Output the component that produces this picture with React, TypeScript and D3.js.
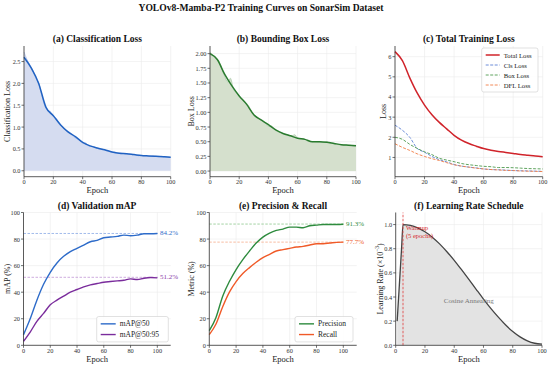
import React from 'react';
import * as d3 from 'd3';

const FONT = "'Liberation Serif', 'Times New Roman', serif";

// ---- data ----
const epochs = [0, 5, 10, 15, 20, 25, 30, 35, 40, 45, 50, 55, 60, 65, 70, 75, 80, 85, 90, 95, 100];
const rawEpochs = d3.range(0, 101, 2);

const clsSmooth = [2.6, 2.35, 2.0, 1.45, 1.26, 1.05, 0.89, 0.78, 0.65, 0.57, 0.52, 0.48, 0.43, 0.4, 0.39, 0.37, 0.35, 0.34, 0.33, 0.32, 0.31];
const clsRaw = [2.72, 2.55, 2.42, 2.3, 2.12, 2.02, 1.74, 1.5, 1.38, 1.36, 1.24, 1.2, 1.06, 1.02, 0.93, 0.9, 0.86, 0.77, 0.74, 0.7,
  0.63, 0.64, 0.57, 0.56, 0.55, 0.51, 0.5, 0.49, 0.46, 0.45, 0.42, 0.43, 0.4, 0.41, 0.39, 0.38, 0.38, 0.36, 0.37, 0.34,
  0.35, 0.34, 0.34, 0.33, 0.34, 0.33, 0.32, 0.33, 0.31, 0.31, 0.3];

const boxSmooth = [2.0, 1.9, 1.65, 1.45, 1.28, 1.14, 0.96, 0.87, 0.79, 0.7, 0.64, 0.6, 0.56, 0.54, 0.5, 0.5, 0.49, 0.47, 0.45, 0.44, 0.43];
const boxRaw = [2.02, 1.98, 1.92, 1.88, 1.75, 1.62, 1.52, 1.58, 1.4, 1.33, 1.28, 1.22, 1.16, 1.13, 1.04, 0.96, 0.92, 0.88, 0.85, 0.82,
  0.76, 0.77, 0.71, 0.68, 0.66, 0.64, 0.63, 0.61, 0.6, 0.62, 0.56, 0.55, 0.55, 0.53, 0.52, 0.5, 0.5, 0.49, 0.5, 0.49,
  0.5, 0.47, 0.47, 0.46, 0.45, 0.45, 0.45, 0.44, 0.44, 0.43, 0.43];

const dflSmooth = [1.68, 1.5, 1.35, 1.18, 1.05, 0.94, 0.85, 0.74, 0.64, 0.57, 0.52, 0.47, 0.43, 0.4, 0.38, 0.36, 0.35, 0.33, 0.32, 0.31, 0.3];
const totalLoss = [6.25, 5.8, 4.95, 4.2, 3.6, 3.12, 2.74, 2.42, 2.1, 1.86, 1.69, 1.56, 1.44, 1.36, 1.3, 1.25, 1.2, 1.15, 1.11, 1.07, 1.04];

const map50 = [8, 20, 34, 46, 55, 62, 67, 70.5, 73, 75.5, 78, 79, 81, 81.5, 82, 83, 82.5, 83, 84, 84, 84.2];
const map5095 = [3, 10, 18, 24, 30.5, 34, 37, 40, 42, 44, 45.5, 46.5, 47.5, 48, 48.5, 49, 50, 49.5, 50.5, 51, 50.8];
const finalMap = [84.2, 51.2];

const precision = [11, 21, 37, 48, 57, 64.5, 71, 77, 81.5, 84.5, 86.5, 87.5, 89, 89, 88.5, 90, 90.5, 91, 91, 91, 91.2];
const recall = [8, 16, 29, 40, 48, 54, 58.5, 62.5, 66, 68.5, 71, 72, 73, 74, 74.5, 75.5, 76.5, 76.5, 77, 77.5, 77.7];
const finalPR = [91.3, 77.7];

const lrEpochs = [1, 2, 3, 4, 5, 10, 15, 20, 25, 30, 35, 40, 45, 50, 55, 60, 65, 70, 75, 80, 85, 90, 95, 100];
const lrValues = [0.2, 0.4, 0.6, 0.8, 1.0, 0.993, 0.973, 0.94, 0.896, 0.84, 0.775, 0.704, 0.626, 0.546, 0.464, 0.383,
  0.306, 0.235, 0.17, 0.114, 0.07, 0.037, 0.017, 0.01];

const xTicks = [0, 20, 40, 60, 80, 100];

type Scale = d3.ScaleLinear<number, number>;

const linePath = (xs: number[], ys: number[], sx: Scale, sy: Scale) =>
  d3.line<number>().x((_, i) => sx(xs[i])).y(d => sy(d)).curve(d3.curveMonotoneX)(ys) || '';

const areaPath = (xs: number[], ys: number[], sx: Scale, sy: Scale, base = 0) =>
  d3.area<number>().x((_, i) => sx(xs[i])).y0(sy(base)).y1(d => sy(d)).curve(d3.curveMonotoneX)(ys) || '';

function Panel(props: {
  left: number; right: number; top: number; bottom: number;
  xMax: number; yDomain: [number, number]; yTicks: number[]; yFmt: (v: number) => string;
  title: string; ylabel: React.ReactNode; ylabelX: number;
  children: (sx: Scale, sy: Scale) => React.ReactNode;
}) {
  const { left, right, top, bottom } = props;
  const sx = d3.scaleLinear().domain([0, props.xMax]).range([left, right]);
  const sy = d3.scaleLinear().domain(props.yDomain).range([bottom, top]);
  const midY = (top + bottom) / 2;
  return (
    <g>
      {xTicks.map(t => (
        <line key={'gx' + t} x1={sx(t)} x2={sx(t)} y1={top} y2={bottom} stroke="#ebebeb" strokeWidth={0.6} />
      ))}
      {props.yTicks.map(t => (
        <line key={'gy' + t} x1={left} x2={right} y1={sy(t)} y2={sy(t)} stroke="#ebebeb" strokeWidth={0.6} />
      ))}
      {props.children(sx, sy)}
      <line x1={left} x2={left} y1={top} y2={bottom} stroke="#333" strokeWidth={0.8} />
      <line x1={left} x2={right} y1={bottom} y2={bottom} stroke="#333" strokeWidth={0.8} />
      {xTicks.map(t => (
        <g key={'tx' + t}>
          <line x1={sx(t)} x2={sx(t)} y1={bottom} y2={bottom + 2.5} stroke="#333" strokeWidth={0.7} />
          <text x={sx(t)} y={bottom + 7.7} fontSize={6.3} textAnchor="middle" fill="#333">{t}</text>
        </g>
      ))}
      {props.yTicks.map(t => (
        <g key={'ty' + t}>
          <line x1={left - 2.5} x2={left} y1={sy(t)} y2={sy(t)} stroke="#333" strokeWidth={0.7} />
          <text x={left - 3.5} y={sy(t)} fontSize={6.3} textAnchor="end" dominantBaseline="central" fill="#333">{props.yFmt(t)}</text>
        </g>
      ))}
      <text x={(left + right) / 2} y={bottom + 16.3} fontSize={8.5} textAnchor="middle" fill="#222">Epoch</text>
      <text transform={`translate(${props.ylabelX},${midY}) rotate(-90)`} fontSize={8} textAnchor="middle"
        dominantBaseline="central" fill="#222">{props.ylabel}</text>
      <text x={(left + right) / 2} y={top - 4} fontSize={9.5} fontWeight="bold" textAnchor="middle" fill="#111">{props.title}</text>
    </g>
  );
}

type LegendItem = { label: string; color: string; dash?: string; width: number };

function Legend({ x, y, w, rowH, fontSize, handleW, items }: {
  x: number; y: number; w: number; rowH: number; fontSize: number; handleW: number; items: LegendItem[];
}) {
  const h = items.length * rowH + 4;
  return (
    <g>
      <rect x={x} y={y} width={w} height={h} rx={2} fill="#fff" fillOpacity={0.85} stroke="#cccccc" strokeWidth={0.6} />
      {items.map((it, i) => {
        const cy = y + 2 + rowH * (i + 0.5);
        return (
          <g key={it.label}>
            <line x1={x + 4} x2={x + 4 + handleW} y1={cy} y2={cy} stroke={it.color} strokeWidth={it.width}
              strokeDasharray={it.dash} />
            <text x={x + 8 + handleW} y={cy} fontSize={fontSize} dominantBaseline="central" fill="#222">{it.label}</text>
          </g>
        );
      })}
    </g>
  );
}

const f1 = d3.format('.1f');
const f2 = d3.format('.2f');
const f0 = d3.format('d');

export default function App() {
  const row1 = { top: 46, bottom: 176.7 };
  const row2 = { top: 212.5, bottom: 345.3 };
  return (
    <svg width={550} height={365} fontFamily={FONT} style={{ position: 'absolute', left: 0, top: 0 }}>
      <rect width={550} height={365} fill="#fff" />
      <text x={261} y={11} fontSize={9.6} fontWeight="bold" textAnchor="middle" fill="#111">
        YOLOv8-Mamba-P2 Training Curves on SonarSim Dataset
      </text>

      {/* (a) */}
      <Panel left={24} right={170.7} {...row1} xMax={100} yDomain={[-0.136, 2.856]} yTicks={[0, 0.5, 1, 1.5, 2, 2.5]}
        yFmt={f1} title="(a) Classification Loss" ylabel="Classification Loss" ylabelX={7.5}>
        {(sx, sy) => (
          <g>
            <path d={areaPath(rawEpochs, clsRaw, sx, sy)} fill="#d5dcf0" />
            <path d={linePath(rawEpochs, clsRaw, sx, sy)} fill="none" stroke="#9fb4e6" strokeWidth={0.6} />
            <path d={linePath(epochs, clsSmooth, sx, sy)} fill="none" stroke="#2062c2" strokeWidth={1.5} />
          </g>
        )}
      </Panel>

      {/* (b) */}
      <Panel left={210} right={356} {...row1} xMax={100} yDomain={[-0.096, 2.13]} yTicks={d3.range(0, 2.01, 0.25)}
        yFmt={f2} title="(b) Bounding Box Loss" ylabel="Box Loss" ylabelX={191}>
        {(sx, sy) => (
          <g>
            <path d={areaPath(rawEpochs, boxRaw, sx, sy)} fill="#d5e0cd" />
            <path d={linePath(rawEpochs, boxRaw, sx, sy)} fill="none" stroke="#9cc39c" strokeWidth={0.6} />
            <path d={linePath(epochs, boxSmooth, sx, sy)} fill="none" stroke="#2a7b2f" strokeWidth={1.5} />
          </g>
        )}
      </Panel>

      {/* (c) */}
      <Panel left={395} right={542.7} {...row1} xMax={100} yDomain={[0.045, 6.53]} yTicks={[1, 2, 3, 4, 5, 6]}
        yFmt={f0} title="(c) Total Training Loss" ylabel="Loss" ylabelX={383.3}>
        {(sx, sy) => (
          <g>
            <path d={linePath(epochs, clsSmooth, sx, sy)} fill="none" stroke="#5b80d4" strokeWidth={0.9} strokeDasharray="3,1.5" />
            <path d={linePath(epochs, boxSmooth, sx, sy)} fill="none" stroke="#4e9a4e" strokeWidth={0.9} strokeDasharray="3,1.5" />
            <path d={linePath(epochs, dflSmooth, sx, sy)} fill="none" stroke="#f07d45" strokeWidth={0.9} strokeDasharray="3,1.5" />
            <path d={linePath(epochs, totalLoss, sx, sy)} fill="none" stroke="#d0232a" strokeWidth={1.5} />
          </g>
        )}
      </Panel>
      <Legend x={481.7} y={48} w={56.3} rowH={10} fontSize={6.7} handleW={14} items={[
        { label: 'Total Loss', color: '#d0232a', width: 1.5 },
        { label: 'Cls Loss', color: '#5b80d4', width: 0.9, dash: '3,1.5' },
        { label: 'Box Loss', color: '#4e9a4e', width: 0.9, dash: '3,1.5' },
        { label: 'DFL Loss', color: '#f07d45', width: 0.9, dash: '3,1.5' },
      ]} />

      {/* (d) */}
      <Panel left={23.5} right={170.7} {...row2} xMax={110} yDomain={[0, 100]} yTicks={[0, 20, 40, 60, 80, 100]}
        yFmt={f0} title="(d) Validation mAP" ylabel="mAP (%)" ylabelX={7.5}>
        {(sx, sy) => (
          <g>
            {finalMap.map((v, i) => (
              <g key={v}>
                <line x1={sx(0)} x2={sx(101)} y1={sy(v)} y2={sy(v)} stroke={i === 0 ? '#7b9fe3' : '#b98ad0'}
                  strokeWidth={0.7} strokeDasharray="2.5,1.5" />
                <text x={sx(102)} y={sy(v)} fontSize={7} dominantBaseline="central" fill={i === 0 ? '#2f6bc9' : '#8a3aa8'}>
                  {v.toFixed(1)}%</text>
              </g>
            ))}
            <path d={linePath(epochs, map50, sx, sy)} fill="none" stroke="#2d6bc9" strokeWidth={1.4} />
            <path d={linePath(epochs, map5095, sx, sy)} fill="none" stroke="#7a2c9c" strokeWidth={1.4} />
          </g>
        )}
      </Panel>
      <Legend x={96.7} y={316.5} w={71.6} rowH={10.7} fontSize={7.5} handleW={15} items={[
        { label: 'mAP@50', color: '#2d6bc9', width: 1.4 },
        { label: 'mAP@50:95', color: '#7a2c9c', width: 1.4 },
      ]} />

      {/* (e) */}
      <Panel left={209.3} right={356.7} {...row2} xMax={110} yDomain={[0, 100]} yTicks={[0, 20, 40, 60, 80, 100]}
        yFmt={f0} title="(e) Precision & Recall" ylabel="Metric (%)" ylabelX={191}>
        {(sx, sy) => (
          <g>
            {finalPR.map((v, i) => (
              <g key={v}>
                <line x1={sx(0)} x2={sx(101)} y1={sy(v)} y2={sy(v)} stroke={i === 0 ? '#7cbf7c' : '#f5a07a'}
                  strokeWidth={0.7} strokeDasharray="2.5,1.5" />
                <text x={sx(102)} y={sy(v)} fontSize={7} dominantBaseline="central" fill={i === 0 ? '#2e8b3e' : '#ee5a2a'}>
                  {v.toFixed(1)}%</text>
              </g>
            ))}
            <path d={linePath(epochs, precision, sx, sy)} fill="none" stroke="#2e8b3e" strokeWidth={1.4} />
            <path d={linePath(epochs, recall, sx, sy)} fill="none" stroke="#f05a28" strokeWidth={1.4} />
          </g>
        )}
      </Panel>
      <Legend x={295} y={316.5} w={58} rowH={10.7} fontSize={7.5} handleW={15} items={[
        { label: 'Precision', color: '#2e8b3e', width: 1.4 },
        { label: 'Recall', color: '#f05a28', width: 1.4 },
      ]} />

      {/* (f) */}
      <Panel left={395.7} right={542} {...row2} xMax={100} yDomain={[0, 1.1]} yTicks={[0, 0.2, 0.4, 0.6, 0.8, 1.0]}
        yFmt={f1} title="(f) Learning Rate Schedule" ylabelX={380}
        ylabel={<>Learning Rate (×10<tspan baseline-shift="super" fontSize={5.5}>−3</tspan>)</>}>
        {(sx, sy) => (
          <g>
            <path d={areaPath(lrEpochs, lrValues, sx, sy)} fill="#e3e3e3" />
            <path d={linePath(lrEpochs, lrValues, sx, sy)} fill="none" stroke="#444" strokeWidth={1.3} />
            <line x1={sx(5)} x2={sx(5)} y1={sy(0)} y2={sy(1.1)} stroke="#e03a3a" strokeWidth={0.8} strokeDasharray="2.5,1.5" />
            <text x={sx(7)} y={sy(0.975)} fontSize={6.5} fill="#d62728" dominantBaseline="central">Warmup</text>
            <text x={sx(7)} y={sy(0.91)} fontSize={6.5} fill="#d62728" dominantBaseline="central">(5 epochs)</text>
            <text x={sx(50)} y={sy(0.37)} fontSize={7} fill="#777" textAnchor="middle" dominantBaseline="central">Cosine Annealing</text>
          </g>
        )}
      </Panel>
    </svg>
  );
}
